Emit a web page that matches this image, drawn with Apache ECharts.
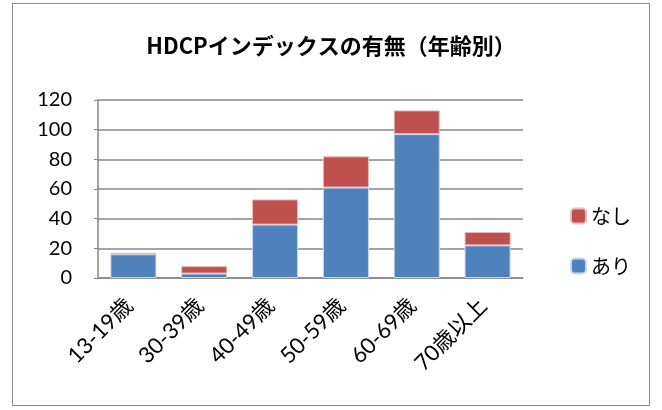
<!DOCTYPE html>
<html>
<head>
<meta charset="utf-8">
<script src="https://cdn.jsdelivr.net/npm/echarts@6/dist/echarts.min.js"></script>
<style>
html,body{margin:0;padding:0;background:#fff;}
#c{width:662px;height:410px;}
#frame{position:absolute;left:12px;top:3px;width:638px;height:403px;border:1px solid #8c8c8c;box-sizing:border-box;pointer-events:none;}
</style>
</head>
<body>
<div id="c"></div>
<div id="frame"></div>
<script>
const categories = ['13-19歳', '30-39歳', '40-49歳', '50-59歳', '60-69歳', '70歳以上'];
const ariValues = [16, 3, 36, 61, 97, 22];
const nashiValues = [1, 5, 17, 21, 16, 9];
const yTicks = [0, 20, 40, 60, 80, 100, 120];

const chart = echarts.init(document.getElementById('c'));
const labelFont = 'Lato, "Noto Sans CJK JP", sans-serif';
chart.setOption({
  animation: false,
  title: {
    text: 'HDCPインデックスの有無（年齢別）',
    left: 'center',
    top: 30,
    textStyle: { fontFamily: '"Noto Sans CJK JP", sans-serif', fontWeight: 'bold', fontSize: 22, color: '#000' }
  },
  legend: {
    orient: 'vertical',
    left: 565,
    top: 201,
    itemWidth: 15,
    itemHeight: 15,
    itemGap: 30,
    data: ['なし', 'あり'],
    textStyle: { fontFamily: '"Noto Sans CJK JP", sans-serif', fontSize: 20, color: '#000' }
  },
  grid: { left: 98, right: 139, top: 100, bottom: 132 },
  xAxis: {
    type: 'category',
    data: categories,
    axisLine: { lineStyle: { color: '#878787', width: 1.5 } },
    axisTick: { show: false },
    axisLabel: { rotate: 45, fontSize: 22, color: '#000', fontFamily: labelFont, margin: 20, interval: 0, padding: [0, 6, 0, 0] }
  },
  yAxis: {
    type: 'value',
    min: yTicks[0],
    max: yTicks[yTicks.length - 1],
    interval: 20,
    axisLine: { show: true, lineStyle: { color: '#878787', width: 1.5 } },
    axisTick: { show: true, length: 4, lineStyle: { color: '#878787' } },
    splitLine: { lineStyle: { color: '#878787', width: 1.5 } },
    axisLabel: { fontSize: 20, color: '#000', fontFamily: labelFont, margin: 26 }
  },
  series: [
    {
      name: 'あり', type: 'bar', stack: 't', data: ariValues, barCategoryGap: '35%',
      itemStyle: { color: '#4f81bd', borderColor: '#c9d7ec', borderWidth: 1 }
    },
    {
      name: 'なし', type: 'bar', stack: 't', data: nashiValues, barCategoryGap: '35%',
      itemStyle: { color: '#c0504d', borderColor: '#e8b9b8', borderWidth: 1 }
    }
  ]
});
</script>
</body>
</html>
